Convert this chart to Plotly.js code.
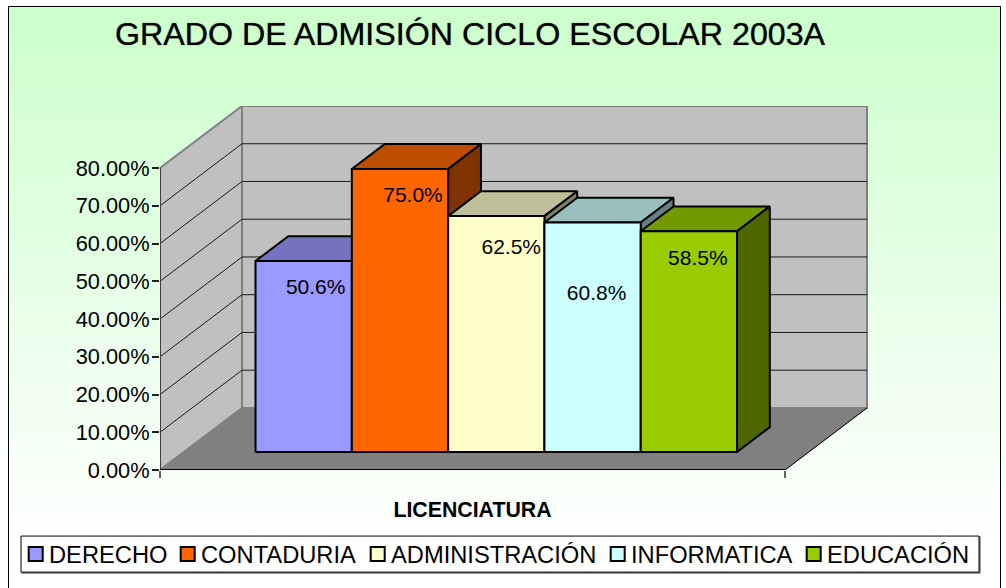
<!DOCTYPE html>
<html>
<head>
<meta charset="utf-8">
<script src="https://cdn.plot.ly/plotly-3.0.1.min.js"></script>
<style>
html,body{margin:0;padding:0;background:#fff;overflow:hidden;width:1006px;height:588px}
#frame{position:absolute;left:8px;top:6px;width:991px;height:600px;border:1px solid #000;
 background:linear-gradient(to bottom,#ccffcc 0%,#ffffff 90%)}
#chart{position:absolute;left:0;top:0;width:1006px;height:588px}
</style>
</head>
<body>
<div id="frame"></div>
<div id="chart"></div>
<script>
// ---- data ----
const categories = ['DERECHO','CONTADURIA','ADMINISTRACIÓN','INFORMATICA','EDUCACIÓN'];
const values = [50.6,75.0,62.5,60.8,58.5];
const tickValues = [0,10,20,30,40,50,60,70,80];
const frontColors = ['#9999ff','#ff6600','#ffffcc','#ccffff','#99cc00'];
const topColors = ['#7373bf','#bf4d00','#bfbf99','#99bfbf','#739900'];
const sideColors = ['#4d4d80','#803300','#808066','#668080','#4d6600'];
const titleText = 'GRADO DE ADMISIÓN CICLO ESCOLAR 2003A';
const xTitleText = 'LICENCIATURA';

// ---- oblique projection constants ----
const W=1006,H=588;
const L=160,R=868,B=470;
const PXU=125, PYU=3.77;             // px per category / per percent
const T=B-80*PYU-62;
const DX=82/PXU, DY=62/PYU;          // full depth of the box in axis units
const Z0=0.29, Z1=Z0+0.4;            // bar front/back depth
const BW=96.3/PXU;                   // bar width
const YMAX=(B-T)/PYU, XMAX=(R-L)/PXU;
const px=(x,z)=>x+z*DX, py=(y,z)=>y+z*DY;
const poly=(pts)=>({x:pts.map(p=>p[0]===null?null:px(p[0],p[2])),y:pts.map(p=>p[0]===null?null:py(p[1],p[2]))});
const base={type:'scatter',mode:'lines',hoverinfo:'skip',showlegend:false,cliponaxis:false};
const shape=(pts,fill,lc,lw)=>Object.assign({},base,poly(pts.concat([pts[0]])),{fill:'toself',fillcolor:fill,line:{color:lc,width:lw}});
const lineT=(pts,lc,lw)=>Object.assign({},base,poly(pts),{line:{color:lc,width:lw}});

const traces=[];
// walls and floor
traces.push(shape([[0,0,1],[5,0,1],[5,80,1],[0,80,1]],'#c0c0c0','#808080',2));
traces.push(shape([[0,0,0],[0,80,0],[0,80,1],[0,0,1]],'#c0c0c0','#808080',2));
traces.push(shape([[0,0,0],[5,0,0],[5,0,1],[0,0,1]],'#808080','#808080',1));
// gridlines
const grid=[];
tickValues.slice(1,-1).forEach(v=>{grid.push([0,v,0],[0,v,1],[5,v,1],[null,null,null]);});
traces.push(lineT(grid,'#1a1a1a',1));
// box edges
traces.push(lineT([[5,0,0],[5,0,1]],'#000',1));
traces.push(lineT([[0,0,0],[0,80,0]],'#404040',2));
// bars
categories.forEach((c,i)=>{
  const x0=2.5+(i-2.5)*BW, x1=x0+BW, v=values[i];
  const legendKey=i===0?'legend':'legend'+(i+1);
  traces.push(Object.assign({},base,{mode:'markers',name:c,showlegend:true,legend:legendKey,
    x:[px(x0+BW/2,Z0)],y:[py(v/2,Z0)],marker:{symbol:'square',size:14,color:frontColors[i],line:{color:'#000',width:2}}}));
  traces.push(shape([[x0,v,Z0],[x1,v,Z0],[x1,v,Z1],[x0,v,Z1]],topColors[i],'#000',2));
  traces.push(shape([[x1,0,Z0],[x1,v,Z0],[x1,v,Z1],[x1,0,Z1]],sideColors[i],'#000',2));
  traces.push(shape([[x0,0,Z0],[x1,0,Z0],[x1,v,Z0],[x0,v,Z0]],frontColors[i],'#000',2));
});
// value labels (pixel nudges relative to the top centre of each front face)
const labelNudgeX=[12,13,15,4,9], labelNudgeY=[28,28,33,72,29];
traces.push(Object.assign({},base,{mode:'text',
  x:values.map((v,i)=>px(2.5+(i-2)*BW+labelNudgeX[i]/PXU,Z0)),
  y:values.map((v,i)=>py(v-labelNudgeY[i]/PYU,Z0)),
  text:values.map(v=>v.toFixed(1)+'%'),textposition:'middle center',
  textfont:{family:'Liberation Sans, Arial, sans-serif',size:21,color:'#000'}}));
// front edge of the floor lives on the category axis that spans the front of the box
traces.push(Object.assign({},base,{xaxis:'x2',x:[0,5],y:[0,0],line:{color:'#000',width:2}}));

// legend slots: text start in pixels
const legendTextX=[49,201,391,631,827];
const FONT='Liberation Sans, Arial, sans-serif';
const layout={
  width:W,height:H,autosize:false,
  paper_bgcolor:'rgba(0,0,0,0)',plot_bgcolor:'rgba(0,0,0,0)',
  margin:{l:L,r:W-R,t:T,b:H-B,pad:0,autoexpand:false},
  font:{family:FONT,color:'#000'},
  title:{text:titleText,font:{family:FONT,size:32.2,color:'#000',shadow:'0 0 1px rgba(0,0,0,0.7)'},x:470/W,xanchor:'center',xref:'container',y:1-34/H,yanchor:'middle',yref:'container'},
  xaxis:{domain:[0,1],range:[0,XMAX],visible:false,showgrid:false,zeroline:false},
  xaxis2:{domain:[0,5*PXU/(R-L)],range:[0,5],anchor:'y',showgrid:false,zeroline:false,showline:false,tickmode:'array',tickvals:[0,5],ticktext:['',''],
    ticks:'outside',ticklen:7,tickcolor:'#606060',tickwidth:2,
    title:{text:'<b>'+xTitleText+'</b>',font:{family:FONT,size:21.3,color:'#000'},standoff:22}},
  yaxis:{range:[0,YMAX],showgrid:false,zeroline:false,showline:false,tickmode:'array',tickvals:tickValues,
    ticktext:tickValues.map(v=>v.toFixed(2)+'%'),ticks:'outside',ticklen:7,tickcolor:'#202020',tickwidth:1.5,ticklabelstandoff:-2,
    tickfont:{family:FONT,size:21.8,color:'#000'}},
  shapes:[
    {type:'rect',layer:'below',xref:'paper',yref:'paper',x0:(22-L)/(R-L),x1:(980-L)/(R-L),y0:(B-573)/(B-T),y1:(B-537)/(B-T),line:{width:1.5,color:'#808080'},fillcolor:'#808080'},
    {type:'rect',layer:'below',xref:'paper',yref:'paper',x0:(21-L)/(R-L),x1:(979-L)/(R-L),y0:(B-572)/(B-T),y1:(B-536)/(B-T),line:{width:1,color:'#000'},fillcolor:'#ffffff'}
  ]
};
categories.forEach((c,i)=>{
  const key=i===0?'legend':'legend'+(i+1);
  layout[key]={xref:'container',yref:'container',x:(legendTextX[i]-40)/W,xanchor:'left',y:1-554/H,yanchor:'middle',
    bgcolor:'rgba(0,0,0,0)',borderwidth:0,font:{family:FONT,size:23.7,color:'#000'},itemwidth:30,orientation:'v'};
});
Plotly.newPlot('chart',traces,layout,{displayModeBar:false}).then(gd=>{
  gd.querySelectorAll('.legendsymbols').forEach(g=>g.setAttribute('transform','translate(6.7,0)'));
});
</script>
</body>
</html>
